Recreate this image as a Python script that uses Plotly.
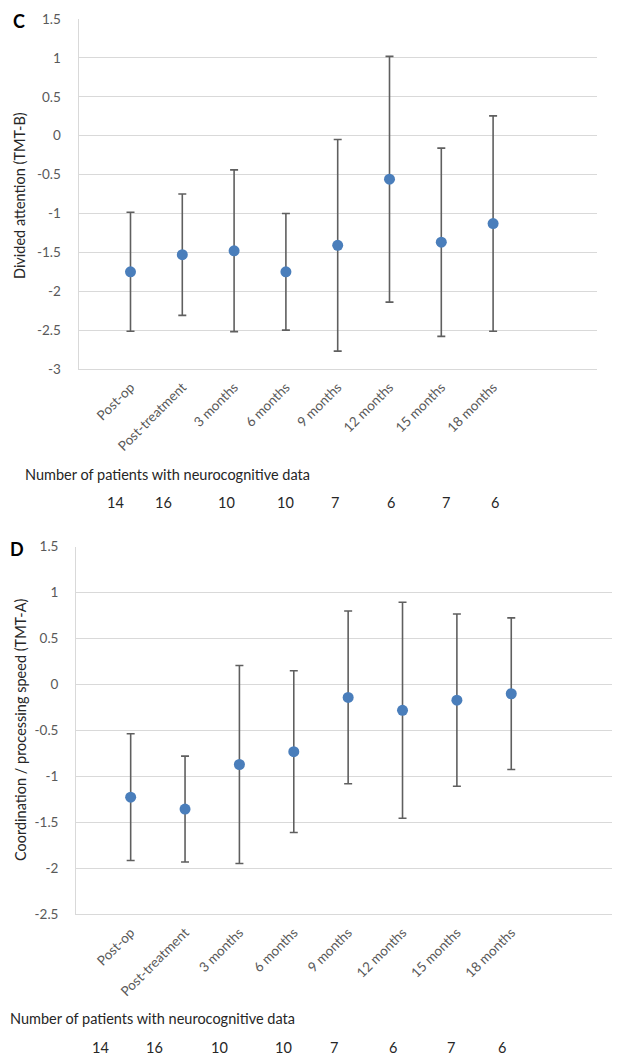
import plotly.graph_objects as go

# time points (shared by both panels)
timepoints = ['Post-op', 'Post-treatment', '3 months', '6 months',
              '9 months', '12 months', '15 months', '18 months']
n_patients = [14, 16, 10, 10, 7, 6, 7, 6]

# panel C - divided attention (TMT-B), mean z-score and error
tmt_b_mean = [-1.75, -1.53, -1.48, -1.75, -1.41, -0.56, -1.37, -1.13]
tmt_b_err = [0.765, 0.78, 1.04, 0.75, 1.36, 1.58, 1.21, 1.385]

# panel D - coordination / processing speed (TMT-A)
tmt_a_mean = [-1.225, -1.355, -0.87, -0.73, -0.14, -0.28, -0.17, -0.10]
tmt_a_err = [0.69, 0.576, 1.078, 0.88, 0.94, 1.175, 0.937, 0.825]

# y tick labels (Excel style, plain hyphen minus)
yticks_c = [1.5, 1, 0.5, 0, -0.5, -1, -1.5, -2, -2.5, -3]
yticks_d = [1.5, 1, 0.5, 0, -0.5, -1, -1.5, -2, -2.5]

# the page body adds an 8px margin, so the figure is a bit smaller
PAGE_OFF = 8
W, H = 620 - PAGE_OFF, 1062 - PAGE_OFF
FONT = 'Lato'
TICK_COL = '#595959'
GRID_COL = '#d9d9d9'
BLUE = '#4a7ebb'
ERR_COL = '#5f5f5f'


def px(x):
    # page pixel -> paper fraction
    return (x - PAGE_OFF) / W


def py(y):
    return 1 - (y - PAGE_OFF) / H


def tick_text(vals):
    return ['%g' % v for v in vals]


xpos = list(range(1, len(timepoints) + 1))

fig = go.Figure()

for i, (mean, err) in enumerate([(tmt_b_mean, tmt_b_err), (tmt_a_mean, tmt_a_err)]):
    fig.add_trace(go.Scatter(
        x=xpos, y=mean,
        mode='markers',
        marker=dict(color=BLUE, size=11),
        error_y=dict(type='data', array=err, visible=True,
                     color=ERR_COL, thickness=1.6, width=4),
        xaxis='x' if i == 0 else 'x2',
        yaxis='y' if i == 0 else 'y2',
        showlegend=False,
    ))

axis_common = dict(showline=True, linecolor=GRID_COL, linewidth=1.3,
                   tickfont=dict(family=FONT, size=13.5, color=TICK_COL),
                   zeroline=False, ticks='', automargin=False)

fig.update_layout(
    width=W, height=H,
    margin=dict(l=0, r=0, t=0, b=0),
    paper_bgcolor='white', plot_bgcolor='white',
    # panel C
    xaxis=dict(domain=[px(78.7), px(596.7)], range=[0, 10], anchor='y',
               tickvals=xpos, ticktext=timepoints, tickangle=-45,
               showgrid=False, ticklabelstandoff=4, **axis_common),
    yaxis=dict(domain=[py(369), py(19)], range=[-3, 1.5], anchor='x',
               tickvals=yticks_c, ticktext=tick_text(yticks_c),
               showgrid=True, gridcolor=GRID_COL,
               gridwidth=1.3, ticklabelstandoff=14, **axis_common),
    # panel D
    xaxis2=dict(domain=[px(76.3), 1], range=[0, 10], anchor='y2',
                tickvals=xpos, ticktext=timepoints, tickangle=-45,
                showgrid=False, ticklabelstandoff=4, **axis_common),
    yaxis2=dict(domain=[py(914.3), py(546.7)], range=[-2.5, 1.5], anchor='x2',
                tickvals=yticks_d, ticktext=tick_text(yticks_d),
                showgrid=True, gridcolor=GRID_COL,
                gridwidth=1.3, ticklabelstandoff=14, **axis_common),
)

txt = dict(family=FONT, size=14.5, color='#262626')


def note(text, x, y, font, xanchor='center', **kw):
    fig.add_annotation(text=text, x=px(x), y=py(y), xref='paper', yref='paper',
                       xanchor=xanchor, yanchor='middle', showarrow=False,
                       font=font, **kw)


# panel letters
note('<b>C</b>', 18.5, 21, dict(family=FONT, size=18, color='black'))
note('<b>D</b>', 17, 549, dict(family=FONT, size=18, color='black'))

# y axis titles
note('Divided attention (TMT-B)', 20, 196, txt, textangle=-90)
note('Coordination / processing speed (TMT-A)', 20, 730, txt, textangle=-90)

# patient counts under each panel
count_cols_c = [115, 163, 226, 285, 335, 391, 446, 495]
count_cols_d = [101, 154, 219, 283, 334, 393, 451, 502]
for label_x, label_y, row_y, cols in [(23, 474, 502, count_cols_c),
                                      (8, 1018, 1047, count_cols_d)]:
    note('Number of patients with neurocognitive data', label_x, label_y, txt,
         xanchor='left')
    for cx, n in zip(cols, n_patients):
        note(str(n), cx, row_y, txt)

fig.write_html("out.html")
